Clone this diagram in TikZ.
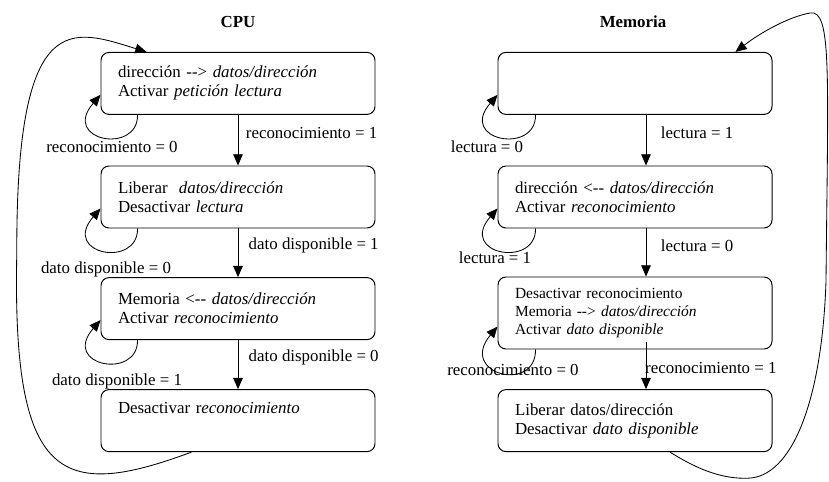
\documentclass[tikz,border=0pt]{standalone}
\usepackage{fontspec}
\setmainfont{Liberation Serif}
\usetikzlibrary{arrows.meta}

\newcommand{\tam}{\fontsize{12}{13.5}\selectfont}
\newcommand{\tamp}{\fontsize{11}{12.8}\selectfont}

\begin{document}
\begin{tikzpicture}[
  font=\tam,
  estado/.style={draw, rounded corners=0.2cm, line width=0.7pt,
    minimum height=1.55cm, text width=6.0cm, inner xsep=0.425cm, align=left},
  flecha/.style={line width=0.6pt, -{Triangle[length=2.8mm,width=2.4mm]}}
]
\useasboundingbox (0,0) rectangle (20.725,12.025);

% Titles
\node[font=\tam\bfseries] (tcpu) at (5.95,11.475) {CPU};
\node[font=\tam\bfseries] (tmem) at (15.825,11.475) {Memoria};

% CPU states
\node[estado] (c1) at (5.95,9.94) {dirección -{}-> \textit{datos/dirección}\\Activar \textit{petición lectura}};
\node[estado] (c2) at (5.95,7.10) {Liberar\ \ \textit{datos/dirección}\\Desactivar \textit{lectura}};
\node[estado] (c3) at (5.95,4.31) {Memoria <-{}- \textit{datos/dirección}\\Activar \textit{reconocimiento}};
\node[estado] (c4) at (5.95,1.51) {Desactivar r\textit{econocimiento}\\\strut};

% Memoria states
\node[estado] (m1) at (15.875,9.94) {};
\node[estado] (m2) at (15.875,7.10) {dirección <-{}- \textit{datos/dirección}\\Activar \textit{reconocimiento}};
\node[estado,minimum height=1.8cm,font=\tamp] (m3) at (15.875,4.20) {Desactivar reconocimiento\\Memoria -{}-> \textit{datos/dirección}\\Activar \textit{dato disponible}};
\node[estado] (m4) at (15.875,1.51) {Liberar datos/dirección\\Desactivar \textit{dato disponible}};

% CPU transitions
\draw[flecha] (c1) -- (c2) node[right=2pt,pos=0.35] {reconocimiento = 1};
\draw[flecha] (c2) -- (c3) node[right=4pt,pos=0.34] {dato disponible = 1};
\draw[flecha] (c3) -- (c4) node[right=4pt,pos=0.36] {dato disponible = 0};

% Memoria transitions
\draw[flecha] ([xshift=0.275cm]m1.south) -- ([xshift=0.275cm]m2.north) node[right=7pt,pos=0.35] {lectura = 1};
\draw[flecha] ([xshift=0.275cm]m2.south) -- ([xshift=0.275cm]m3.north) node[right=7pt,pos=0.35] {lectura = 0};
\draw[flecha] ([xshift=0.275cm,yshift=0.18cm]m3.south) -- ([xshift=0.275cm]m4.north) node[anchor=west,inner sep=0pt,pos=0.55,xshift=-0.03cm] {reconocimiento = 1};

% Self loops
\draw[flecha] ([xshift=0.925cm]c1.south west) .. controls +(0.02,-1.0) and +(-1.0,-1.15) .. ([yshift=0.5cm]c1.south west);
\draw[flecha] ([xshift=0.925cm]c2.south west) .. controls +(0.02,-1.0) and +(-1.0,-1.15) .. ([yshift=0.5cm]c2.south west);
\draw[flecha] ([xshift=0.925cm]c3.south west) .. controls +(0.02,-1.0) and +(-1.0,-1.15) .. ([yshift=0.5cm]c3.south west);
\draw[flecha] ([xshift=0.95cm]m1.south west) .. controls +(0.02,-1.0) and +(-1.0,-1.15) .. ([yshift=0.5cm]m1.south west);
\draw[flecha] ([xshift=0.95cm]m2.south west) .. controls +(0.02,-1.0) and +(-1.0,-1.15) .. ([yshift=0.5cm]m2.south west);
\draw[flecha] ([xshift=0.95cm]m3.south west) .. controls +(0.02,-1.1) and +(-1.0,-1.2) .. ([yshift=0.575cm]m3.south west);

% Loop labels
\node (lc1) at (2.80,8.35) {reconocimiento = 0};
\node (lc2) at (2.65,5.30) {dato disponible = 0};
\node (lc3) at (2.925,2.50) {dato disponible = 1};
\node (lm1) at (12.175,8.35) {lectura = 0};
\node (lm2) at (12.375,5.575) {lectura = 1};
\node (lm3) at (12.825,2.775) {reconocimiento = 0};

% Return arcs
\draw[flecha] ([xshift=2.275cm]c4.south west) .. controls (1.5,-0.5) and (0.3,0.0) .. (0.42,5.7)
  .. controls (0.4,11.9) and (1.8,11.3) .. ([xshift=1.15cm]c1.north west);
\draw[flecha] ([xshift=0.875cm]m4.south) .. controls (17.5,0.25) and (18.1,0.05) .. (18.7,0.07)
  .. controls (19.8,0.1) and (20.55,2.0) .. (20.65,5.0)
  .. controls (20.7,10.2) and (20.8,11.8) .. (20.25,11.7)
  .. controls (19.7,11.6) and (19.0,11.2) .. ([xshift=-0.925cm]m1.north east);

\end{tikzpicture}
\end{document}
